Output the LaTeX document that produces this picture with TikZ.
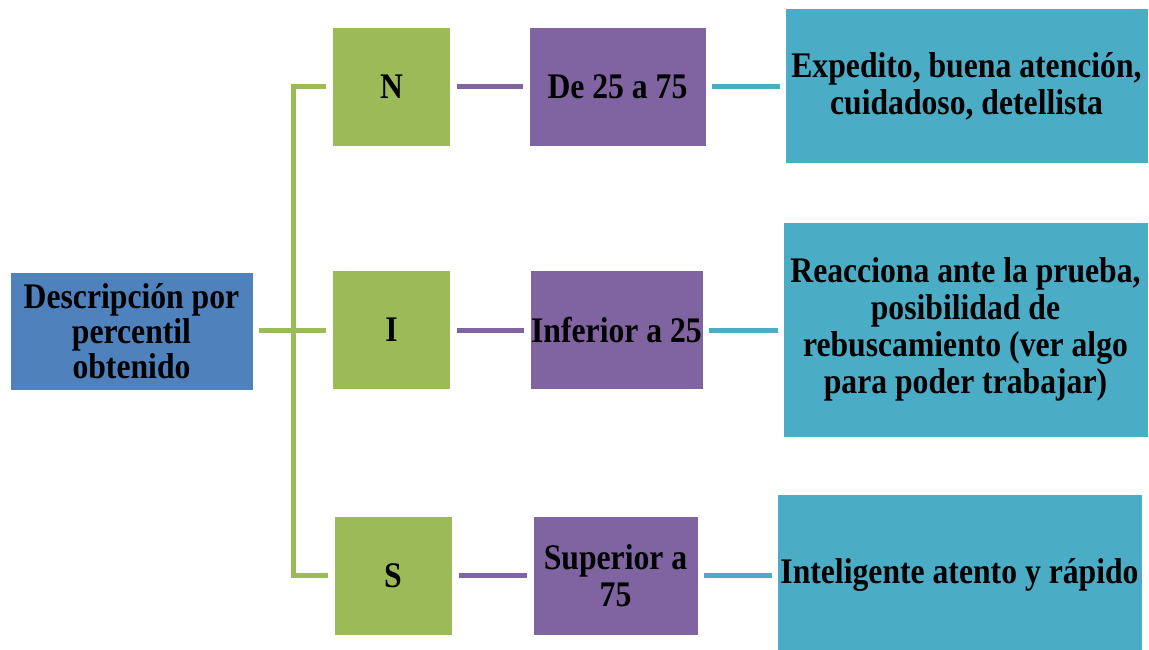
\documentclass[tikz,border=0pt]{standalone}
\usepackage{fontspec}
\setmainfont{Liberation Serif}[FakeStretch=0.88]
\usetikzlibrary{positioning}

\definecolor{descblue}{HTML}{4F81BD}
\definecolor{lvlgreen}{HTML}{9BBB59}
\definecolor{lvlpurple}{HTML}{8064A2}
\definecolor{lvlteal}{HTML}{4BACC6}

\tikzset{
  box/.style={draw=white, line width=1pt, inner sep=0pt, align=center,
    font=\fontsize{36}{37}\selectfont\bfseries},
  letterbox/.style={box, fill=lvlgreen, minimum width=118pt, minimum height=119pt},
  rangebox/.style={box, fill=lvlpurple, minimum height=119pt},
  traitbox/.style={box, fill=lvlteal},
  link/.style={line width=5pt}
}

\begin{document}
\begin{tikzpicture}[x=1pt,y=-1pt]
  \useasboundingbox (0,0) rectangle (1149,650);

  \node[box, fill=descblue, minimum width=243pt, minimum height=118pt,
    font=\fontsize{36}{35}\selectfont\bfseries] (desc) at (131.5,331) {Descripción por\\percentil\\obtenido};

  \node[letterbox] (gN) at (391.5,87) {N};
  \node[letterbox] (gI) at (391.5,330) {I};
  \node[letterbox] (gS) at (393,575.5) {S};

  \node[rangebox, minimum width=177pt] (pN) at (617.5,87) {De 25 a 75};
  \node[rangebox, minimum width=173pt] (pI) at (616.5,330) {Inferior a 25};
  \node[rangebox, minimum width=165pt] (pS) at (615.5,575.5) {Superior a\\75};

  \node[traitbox, minimum width=363pt, minimum height=155pt] (tN) at (966.5,86.5) {Expedito, buena atención,\\cuidadoso, detellista};
  \node[traitbox, minimum width=365pt, minimum height=215pt] (tI) at (965.5,329.5) {Reacciona ante la prueba,\\posibilidad de\\rebuscamiento (ver algo\\para poder trabajar)};
  \node[traitbox, minimum width=365pt, minimum height=162pt] (tS) at (959.5,575) {Inteligente atento y rápido};

  % bracket from the description to the three levels
  \coordinate (fork) at (293,330);
  \draw[link, lvlgreen, shorten <=5pt] (desc.east |- fork) -- (fork);
  \draw[link, lvlgreen, shorten <=6pt] (gN.west) -| (fork);
  \draw[link, lvlgreen, shorten <=6pt] (gI.west) -- (fork);
  \draw[link, lvlgreen, shorten <=6pt] (gS.west) -| (fork);

  % level -> range -> trait
  \foreach \r in {N,I,S} {
    \draw[link, lvlpurple, shorten <=6pt, shorten >=6pt] (g\r.east) -- (g\r.east -| p\r.west);
    \draw[link, lvlteal, shorten <=5pt, shorten >=5pt] (p\r.east) -- (p\r.east -| t\r.west);
  }
\end{tikzpicture}
\end{document}
